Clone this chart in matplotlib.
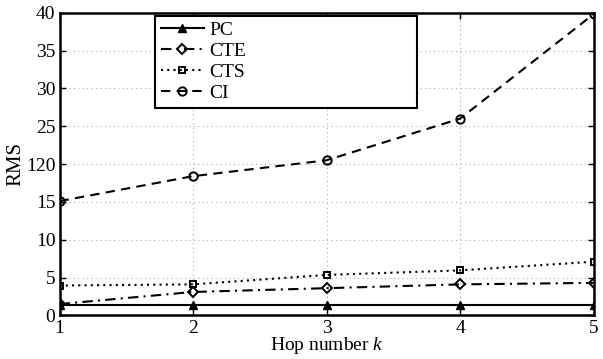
import matplotlib
matplotlib.use("Agg")
import matplotlib.pyplot as plt

plt.rcParams['font.family'] = ['Liberation Serif', 'DejaVu Serif']
plt.rcParams['mathtext.fontset'] = 'custom'
plt.rcParams['mathtext.rm'] = 'Liberation Serif'
plt.rcParams['mathtext.it'] = 'Liberation Serif:italic'

hops = [1, 2, 3, 4, 5]
pc = [1.4, 1.4, 1.4, 1.4, 1.4]
cte = [1.5, 3.1, 3.6, 4.1, 4.3]
cts = [3.95, 4.1, 5.35, 5.95, 7.1]
ci = [15.1, 18.4, 20.5, 26.0, 39.8]
yticks = [0, 5, 10, 15, 20, 25, 30, 35, 40]
ytick_labels = ['0', '5', '10', '15', '120', '25', '30', '35', '40']

fig = plt.figure(figsize=(6.03, 3.59), dpi=100)
ax = fig.add_axes([0.0987, 0.1214, 0.9843 - 0.0987, 0.9646 - 0.1214])

lw = 1.5
ax.plot(hops, pc, '-', color='black', lw=lw, marker='^', ms=6, mfc='black', mec='black', label='PC')
ax.plot(hops, cte, color='black', lw=lw, dashes=(5, 2.5, 1, 2.5), marker='D', ms=5, mfc='none',
        mec='black', mew=1.4, label='CTE')
ax.plot(hops, cts, color='black', lw=lw, dashes=(1, 2), marker='s', ms=5, mfc='none',
        mec='black', mew=1.4, label='CTS')
ax.plot(hops, ci, color='black', lw=lw, dashes=(4.5, 3), marker='o', ms=6, mfc='none',
        mec='black', mew=1.4, label='CI')

ax.set_xlim(1, 5)
ax.set_ylim(0, 40)
ax.set_xticks(hops)
ax.set_xticklabels([str(h) for h in hops])
ax.set_yticks(yticks)
ax.set_yticklabels(ytick_labels)
ax.tick_params(direction='in', top=True, right=True, labelsize=14, length=4, width=1, pad=3)
ax.grid(True, linestyle=(0, (1, 3)), color='#aaaaaa', lw=0.8)
for s in ax.spines.values():
    s.set_linewidth(1.8)

ax.set_xlabel('Hop number $k$', fontsize=14, labelpad=-1)
ax.set_ylabel('RMS', fontsize=15, labelpad=0)

leg = ax.legend(loc='upper left', bbox_to_anchor=(0.179, 0.99, 0.49, 0.0), mode='expand',
                fontsize=14, frameon=True, fancybox=False, edgecolor='black',
                handlelength=2.2, handletextpad=0.3, labelspacing=0.17, borderpad=0.3,
                borderaxespad=0)
leg.get_frame().set_linewidth(1.5)
leg.get_frame().set_alpha(1)

fig.savefig('out.png', dpi=100)
